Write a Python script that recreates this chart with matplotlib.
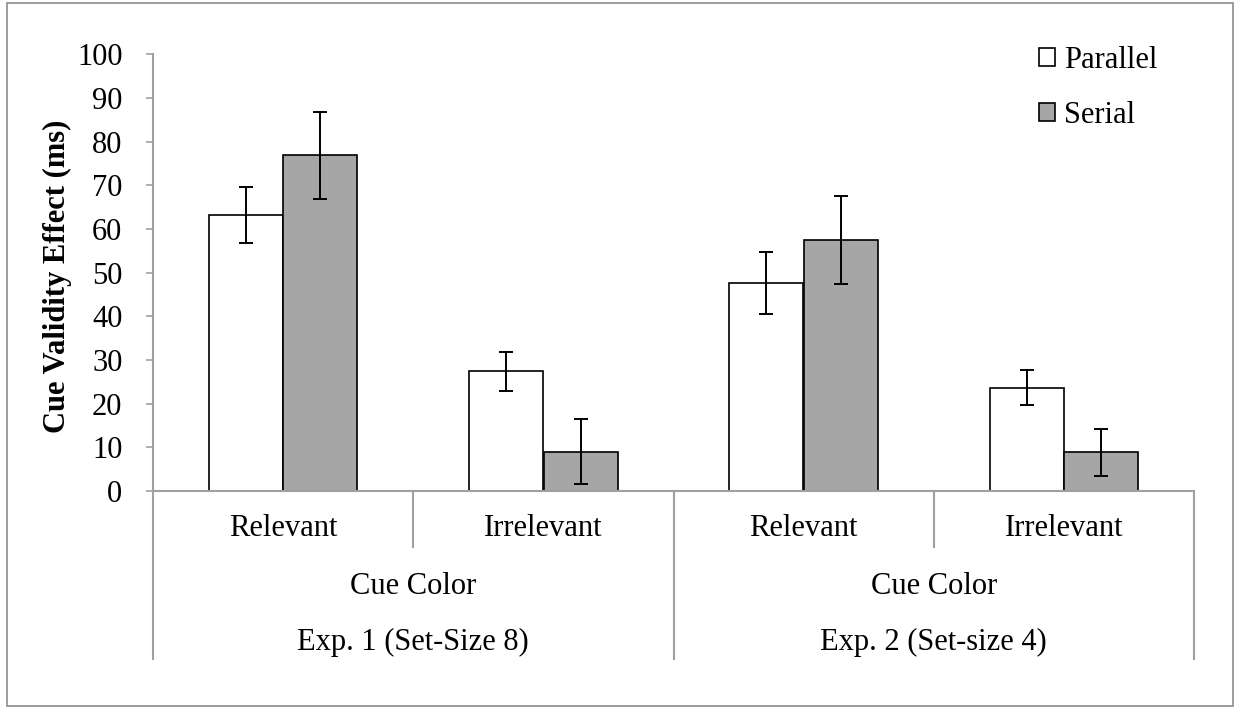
import matplotlib
matplotlib.use("Agg")
import matplotlib.pyplot as plt
from matplotlib.patches import Rectangle
import matplotlib.transforms as mtransforms
import numpy as np

plt.rcParams['font.family'] = ['Liberation Serif', 'DejaVu Serif']

categories = ["Relevant", "Irrelevant", "Relevant", "Irrelevant"]
mid_labels = ["Cue Color", "Cue Color"]
group_labels = ["Exp. 1 (Set-Size 8)", "Exp. 2 (Set-size 4)"]
series = ["Parallel", "Serial"]
parallel = [63.2, 27.4, 47.7, 23.7]
serial = [76.9, 9.0, 57.5, 8.9]
parallel_lo = [56.9, 22.9, 40.6, 19.6]
parallel_hi = [69.7, 31.9, 54.7, 27.7]
serial_lo = [66.9, 1.5, 47.5, 3.5]
serial_hi = [86.8, 16.5, 67.5, 14.1]
yticks = [0, 10, 20, 30, 40, 50, 60, 70, 80, 90, 100]

FS = 22
W, H = 1236, 709
fig = plt.figure(figsize=(W / 100, H / 100), dpi=100)
x0, x1, y0, y1 = 153, 1194, 491, 54.3
ax = fig.add_axes([x0 / W, (H - y0) / H, (x1 - x0) / W, (y0 - y1) / H])

gray = '#a0a0a0'
fill = '#a6a6a6'
x = np.arange(len(categories)) + 0.5
off = 0.143
bw = 0.285
p = np.array(parallel); s = np.array(serial)
ax.bar(x - off, p, bw, color='white', edgecolor='black', linewidth=1.2, label=series[0], zorder=2)
ax.bar(x + off, s, bw, color=fill, edgecolor='black', linewidth=1.2, label=series[1], zorder=2)
perr = np.array([p - np.array(parallel_lo), np.array(parallel_hi) - p])
serr = np.array([s - np.array(serial_lo), np.array(serial_hi) - s])
ax.errorbar(x - off, p, yerr=perr, fmt='none', ecolor='black', elinewidth=1.4, capsize=5, capthick=1.4, zorder=3)
ax.errorbar(x + off, s, yerr=serr, fmt='none', ecolor='black', elinewidth=1.4, capsize=5, capthick=1.4, zorder=3)

ax.set_xlim(0, len(categories))
ax.set_ylim(0, 100)
ax.set_yticks(yticks)
ax.set_yticklabels([str(t) for t in yticks], fontsize=FS)
ax.tick_params(axis='y', direction='out', length=5, width=1.2, color=gray, pad=17)
ax.set_xticks([])
for sp in ['top', 'right']:
    ax.spines[sp].set_visible(False)
for sp in ['left', 'bottom']:
    ax.spines[sp].set_color(gray)
    ax.spines[sp].set_linewidth(1.5)
ax.spines['bottom'].set_zorder(4)

trans = mtransforms.blended_transform_factory(ax.transData, ax.transAxes)
ph = y0 - y1
def ay(py):
    return -(py - y0) / ph

# separators
for xi in range(len(categories) + 1):
    bottom = ay(659) if xi % 2 == 0 else ay(547)
    ax.plot([xi, xi], [0, bottom], transform=trans, color=gray, lw=1.5, clip_on=False)

for xi, lab in zip(x, categories):
    ax.text(xi, ay(529), lab, transform=trans, ha='center', va='center', fontsize=FS)
for gi, lab in enumerate(mid_labels):
    ax.text(gi * 2 + 1, ay(586), lab, transform=trans, ha='center', va='center', fontsize=FS)
for gi, lab in enumerate(group_labels):
    ax.text(gi * 2 + 1, ay(642), lab, transform=trans, ha='center', va='center', fontsize=FS)

fig.text(57.5 / W, 1 - 276 / H, "Cue Validity Effect (ms)", rotation=90, ha='center', va='center',
         fontsize=FS, fontweight='bold')

leg = ax.legend(loc='upper left', bbox_to_anchor=((1039 - x0) / (x1 - x0), 1 + (54.3 - 46) / ph),
                frameon=False, fontsize=FS, handlelength=0.52, handleheight=0.52, handletextpad=0.3,
                labelspacing=0.85, borderaxespad=0, borderpad=0)

fig.patches.append(Rectangle((7 / W, 3 / H), (1233 - 7) / W, (706 - 3) / H, transform=fig.transFigure,
                             fill=False, edgecolor='#8c8c8c', lw=1.2))

fig.savefig("out.png", dpi=100)
